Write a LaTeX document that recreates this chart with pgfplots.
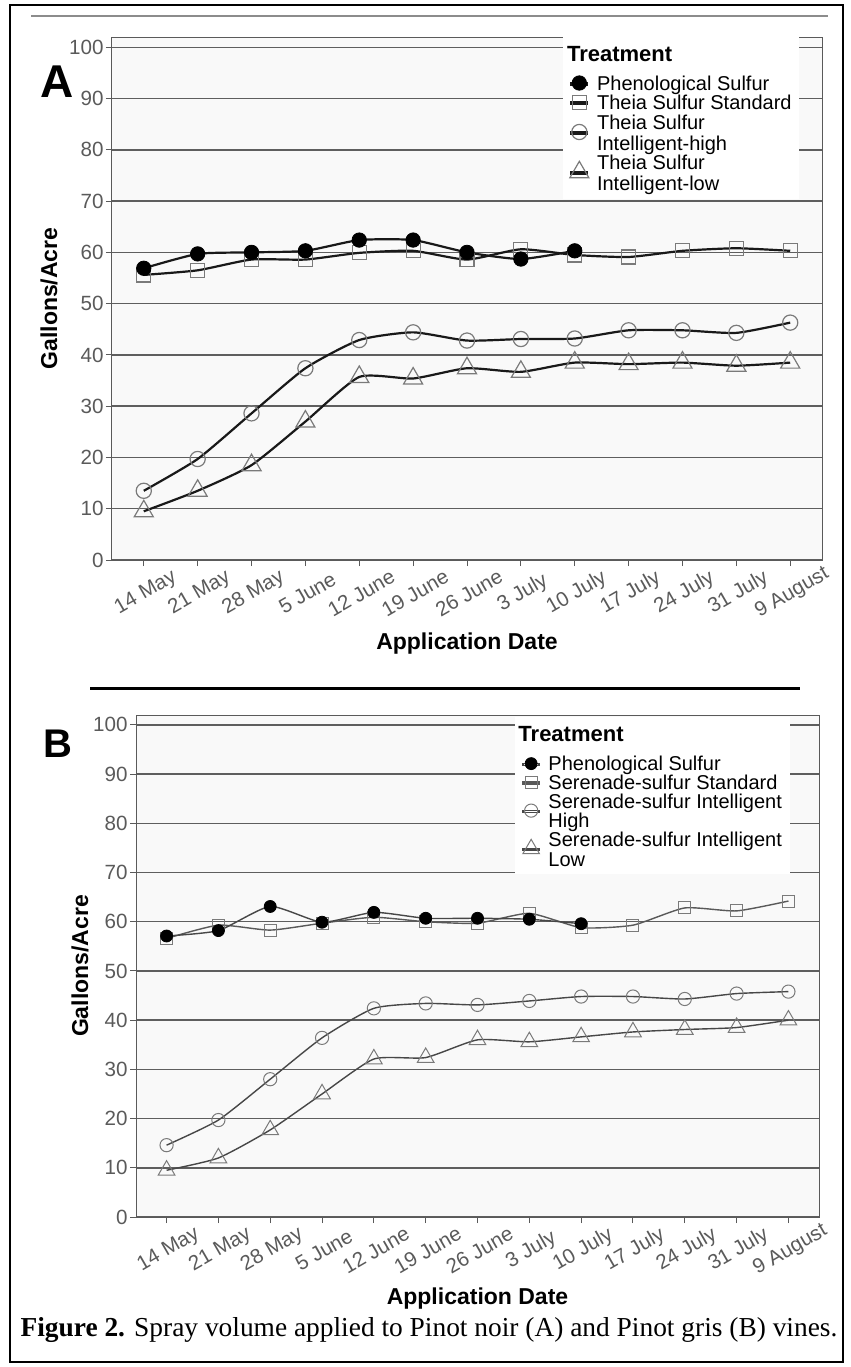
\documentclass[border=0pt]{standalone}
\usepackage{fontspec}
\setmainfont{Liberation Sans}
\newfontfamily\capfont{Liberation Serif}
\usepackage{pgfplots}
\pgfplotsset{compat=1.18}

\definecolor{gridc}{HTML}{5E5E5E}
\definecolor{tickc}{HTML}{5A5A5A}
\definecolor{markc}{HTML}{7A7A7A}
\definecolor{bgc}{HTML}{F9F9F9}

\pgfplotsset{
  panel/.style={
    scale only axis,
    axis background/.style={fill=bgc},
    xmin=-0.59, xmax=12.59, ymin=0, ymax=102,
    xtick={0,...,12},
    xticklabels={14 May,21 May,28 May,5 June,12 June,19 June,26 June,3 July,10 July,17 July,24 July,31 July,9 August},
    ytick={0,10,...,100},
    xtick pos=lower, ytick pos=left,
    ymajorgrids, grid style={gridc, line width=0.75pt},
    axis line style={tickc, line width=0.5pt},
    tick align=outside, major tick length=3pt,
    tick style={tickc, line width=0.5pt},
    ticklabel style={font=\fontsize{10.3}{12}\selectfont, text=tickc},
    /pgf/number format/assume math mode=true,
    yticklabel style={inner sep=1pt},
    xticklabel style={anchor=center, xshift=1pt, yshift=-13.5pt, rotate=30},
    ylabel={Gallons/Acre}, xlabel={Application Date},
    label style={font=\bfseries\fontsize{11.5}{13}\selectfont},
    legend style={anchor=north west, fill=white, draw=none,
      inner xsep=3.5pt, inner ysep=2pt, row sep=0pt, column sep=4pt,
      font=\fontsize{10}{11}\selectfont},
    legend cell align=left,
    % fixed-size cell, marker drawn as overlay so shifted markers do not stretch rows
    legend image code/.code={\path (0pt,0pt) rectangle (8pt,1pt);
      \draw[overlay, mark repeat=2,mark phase=2,#1]
      plot coordinates {(0.6pt,0.8pt) (4pt,0.8pt) (7.4pt,0.8pt)};},
  },
  % panel A series
  phenA/.style={color=black!90, line width=1.1pt, smooth, tension=0.35, mark=*, mark size=3.6pt,
    mark options={solid, fill=black, draw=black, line width=0.4pt}},
  stdA/.style={color=black!90, line width=1.1pt, smooth, tension=0.35, mark=square, mark size=3.5pt,
    mark options={solid, draw=markc, line width=0.6pt}},
  highA/.style={color=black!90, line width=1.1pt, smooth, tension=0.35, mark=o, mark size=3.8pt,
    mark options={solid, draw=markc, line width=0.6pt}},
  lowA/.style={color=black!90, line width=1.1pt, smooth, tension=0.35, mark=triangle, mark size=5.5pt,
    mark options={solid, draw=markc, line width=0.6pt}},
  % panel B series
  phenB/.style={color=black!72, line width=0.7pt, smooth, tension=0.35, mark=*, mark size=3pt,
    mark options={solid, fill=black, draw=black, line width=0.4pt}},
  stdB/.style={color=black!65, line width=0.7pt, smooth, tension=0.35, mark=square, mark size=3pt,
    mark options={solid, draw=markc, line width=0.5pt}},
  highB/.style={color=black!72, line width=0.7pt, smooth, tension=0.35, mark=o, mark size=3.3pt,
    mark options={solid, draw=markc, line width=0.5pt}},
  lowB/.style={color=black!72, line width=0.7pt, smooth, tension=0.35, mark=triangle, mark size=4.8pt,
    mark options={solid, draw=markc, line width=0.5pt}},
}

\begin{document}
\begin{tikzpicture}
\path[use as bounding box] (0,0) rectangle (425.5pt,-683.5pt);
\draw[line width=1pt] (5pt,-2.5pt) rectangle (421.5pt,-681pt);
\draw[black!45, line width=0.6pt] (15.5pt,-8pt) -- (414pt,-8pt);
\draw[line width=1.5pt] (45pt,-344pt) -- (400pt,-344pt);
\node[font=\bfseries\fontsize{23}{25}\selectfont] at (28.5pt,-41pt) {A};
\node[font=\bfseries\fontsize{20}{22}\selectfont] at (29pt,-372pt) {B};

% ---- A: Pinot noir
\begin{axis}[panel, at={(56pt,-280pt)}, anchor=south west, width=355pt, height=261.5pt,
  ylabel style={at={(axis description cs:-0.0887,0.5)}, anchor=center},
  xlabel style={at={(axis description cs:0.5,-0.159)}, anchor=center},
  legend style={at={(axis description cs:0.635,1)},
    nodes={inner sep=0.3pt, text height=7.4pt, text depth=1.8pt}}]
\addplot[stdA, forget plot] coordinates {
  (0,55.6) (1,56.5) (2,58.6) (3,58.6) (4,59.9) (5,60.3) (6,58.6)
  (7,60.6) (8,59.5) (9,59.1) (10,60.3) (11,60.8) (12,60.3)};
\addplot[highA, forget plot] coordinates {
  (0,13.5) (1,19.7) (2,28.6) (3,37.4) (4,42.9) (5,44.4) (6,42.8)
  (7,43.1) (8,43.2) (9,44.8) (10,44.8) (11,44.3) (12,46.3)};
\addplot[lowA, forget plot] coordinates {
  (0,9.5) (1,13.5) (2,18.5) (3,27.0) (4,35.7) (5,35.4) (6,37.4)
  (7,36.7) (8,38.5) (9,38.2) (10,38.5) (11,37.9) (12,38.5)};
\addplot[phenA, forget plot] coordinates {
  (0,56.9) (1,59.7) (2,60.0) (3,60.3) (4,62.4) (5,62.4) (6,60.0)
  (7,58.7) (8,60.3)};
\addlegendimage{empty legend}
\addlegendentry[text height=9.6pt, text depth=6.5pt, font=\bfseries\fontsize{11}{12}\selectfont]{\hspace{-15pt}Treatment}
\addlegendimage{phenA}\addlegendentry{Phenological Sulfur}
\addlegendimage{stdA}\addlegendentry{Theia Sulfur Standard}
\addlegendimage{highA, yshift=-4.9pt}\addlegendentry{Theia Sulfur}
\addlegendimage{empty legend}\addlegendentry{Intelligent-high}
\addlegendimage{lowA, yshift=-4.9pt}\addlegendentry{Theia Sulfur}
\addlegendimage{empty legend}\addlegendentry{Intelligent-low}
\end{axis}

% ---- B: Pinot gris
\begin{axis}[panel, at={(68pt,-608.5pt)}, anchor=south west, width=341.5pt, height=251pt,
  ylabel style={at={(axis description cs:-0.082,0.5)}, anchor=center},
  xlabel style={at={(axis description cs:0.5,-0.163)}, anchor=center},
  legend style={at={(axis description cs:0.555,0.996)},
    nodes={inner sep=0.3pt, text height=7.1pt, text depth=1.7pt}}]
\addplot[stdB, forget plot] coordinates {
  (0,56.6) (1,59.3) (2,58.3) (3,59.7) (4,60.9) (5,60.0) (6,59.7)
  (7,61.7) (8,58.8) (9,59.3) (10,62.8) (11,62.2) (12,64.2)};
\addplot[highB, forget plot] coordinates {
  (0,14.6) (1,19.7) (2,28.0) (3,36.4) (4,42.4) (5,43.4) (6,43.1)
  (7,43.9) (8,44.8) (9,44.8) (10,44.3) (11,45.4) (12,45.8)};
\addplot[lowB, forget plot] coordinates {
  (0,9.5) (1,12.0) (2,17.7) (3,25.0) (4,32.1) (5,32.4) (6,36.0)
  (7,35.6) (8,36.6) (9,37.6) (10,38.1) (11,38.5) (12,40.0)};
\addplot[phenB, forget plot] coordinates {
  (0,57.1) (1,58.2) (2,63.1) (3,59.9) (4,61.9) (5,60.7) (6,60.7)
  (7,60.5) (8,59.6)};
\addlegendimage{empty legend}
\addlegendentry[text height=9.6pt, text depth=7pt, font=\bfseries\fontsize{11}{12}\selectfont]{\hspace{-15pt}Treatment}
\addlegendimage{phenB}\addlegendentry{Phenological Sulfur}
\addlegendimage{stdB}\addlegendentry{Serenade-sulfur Standard}
\addlegendimage{highB, yshift=-4.7pt}\addlegendentry{Serenade-sulfur Intelligent}
\addlegendimage{empty legend}\addlegendentry{High}
\addlegendimage{lowB, yshift=-4.7pt}\addlegendentry{Serenade-sulfur Intelligent}
\addlegendimage{empty legend}\addlegendentry{Low}
\end{axis}

\node[font=\capfont\fontsize{13.7}{16}\selectfont] at (214.5pt,-665pt)
  {\textbf{Figure 2.} Spray volume applied to Pinot noir (A) and Pinot gris (B) vines.};
\end{tikzpicture}
\end{document}
